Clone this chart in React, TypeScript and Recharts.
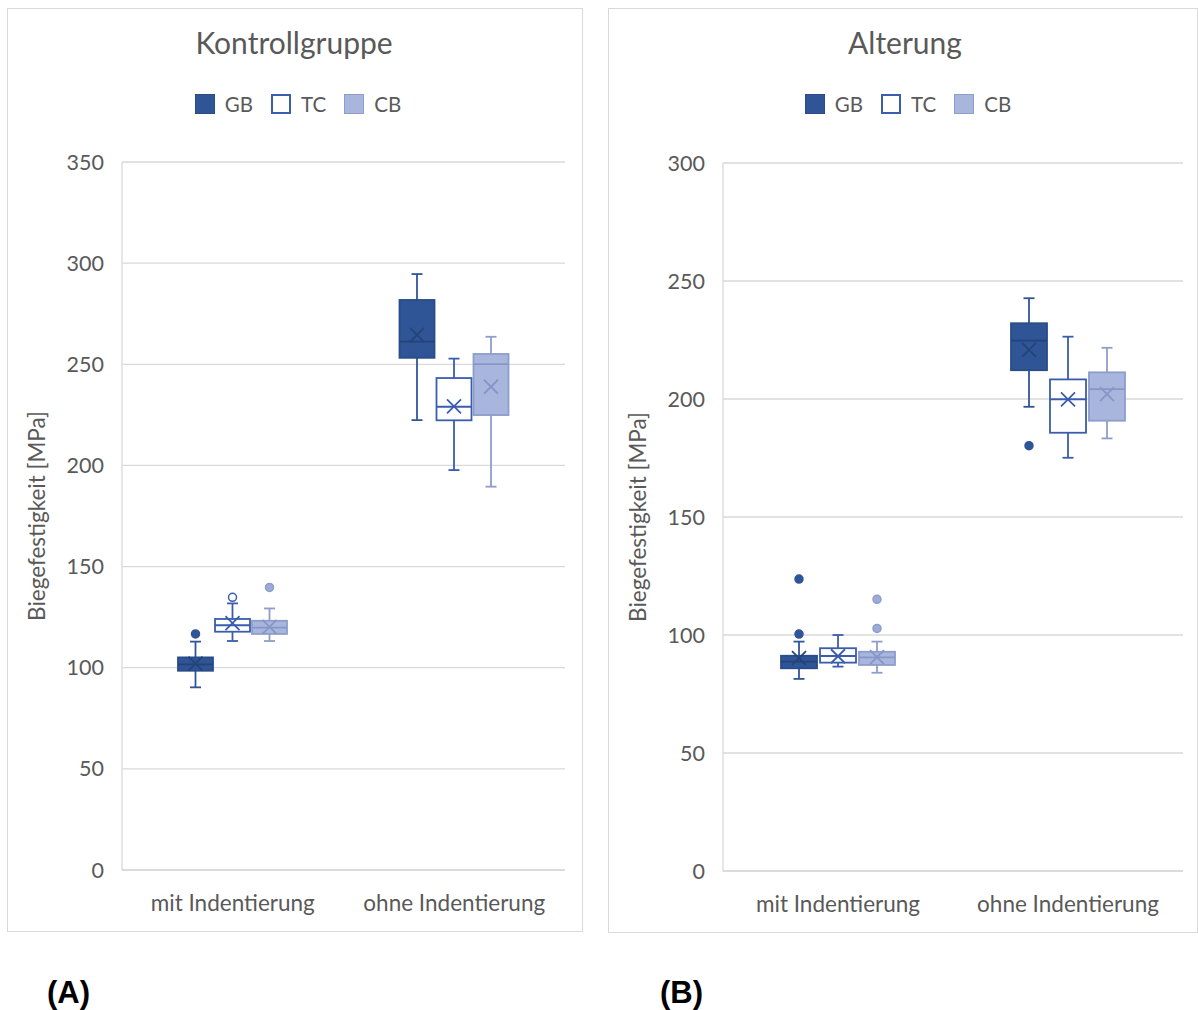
import React from 'react';
import { ComposedChart, Bar, XAxis, YAxis, CartesianGrid } from 'recharts';

// ---------- data ----------
const categories = ['mit Indentierung', 'ohne Indentierung'];
const seriesNames = ['GB', 'TC', 'CB'];

// stats per category: [whisker low, Q1, median, Q3, whisker high, mean]
const kontrollGB = [[90.3, 98.5, 101.7, 105.1, 112.9, 102.0], [222.4, 253.2, 261.2, 281.8, 294.6, 264.5]];
const kontrollGBOutliers = [[116.7], []];
const kontrollTC = [[113.2, 117.8, 121.0, 124.1, 131.8, 122.0], [197.7, 222.3, 229.0, 243.2, 252.8, 229.2]];
const kontrollTCOutliers = [[134.8], []];
const kontrollCB = [[113.2, 116.7, 119.8, 123.2, 129.3, 120.2], [189.5, 224.9, 250.1, 255.1, 263.6, 238.9]];
const kontrollCBOutliers = [[139.7], []];
const kontrollTicks = [0, 50, 100, 150, 200, 250, 300, 350];

const alterungGB = [[81.4, 85.9, 88.7, 91.2, 97.2, 90.2], [196.7, 212.2, 224.7, 232.1, 242.7, 220.8]];
const alterungGBOutliers = [[100.4, 123.7], [180.2]];
const alterungTC = [[86.6, 88.3, 91.1, 94.4, 100.0, 91.0], [175.1, 185.7, 199.9, 208.3, 226.4, 199.8]];
const alterungTCOutliers = [[], []];
const alterungCB = [[84.0, 87.3, 90.5, 92.9, 97.2, 90.6], [183.3, 190.8, 204.2, 211.3, 221.7, 202.1]];
const alterungCBOutliers = [[102.8, 115.1], []];
const alterungTicks = [0, 50, 100, 150, 200, 250, 300];

// ---------- styles ----------
const FONT = 'Lato, "Noto Sans", sans-serif';
const TEXT = '#595959';
const GRID = '#d9d9d9';

const seriesStyle: Record<string, any> = {
  GB: { fill: '#2F5597', stroke: '#2A4D8A', line: '#244478', whisker: '#2F5597', dot: '#2F5597', dotStroke: '#2F5597' },
  TC: { fill: '#FFFFFF', stroke: '#3A5DAE', line: '#3A5DAE', whisker: '#3A5DAE', dot: '#FFFFFF', dotStroke: '#3A5DAE' },
  CB: { fill: '#A8B6DD', stroke: '#8E9DCB', line: '#8696C7', whisker: '#8E9DCB', dot: '#9DACD7', dotStroke: '#8E9DCB' },
};

function buildRows(gb: number[][], gbo: number[][], tc: number[][], tco: number[][], cb: number[][], cbo: number[][]) {
  const mk = (s: number[], o: number[]) => ({
    stats: s,
    out: o,
    range: [Math.min(s[0], ...o), Math.max(s[4], ...o)],
  });
  return categories.map((name, i) => ({
    name,
    GB: mk(gb[i], gbo[i]),
    TC: mk(tc[i], tco[i]),
    CB: mk(cb[i], cbo[i]),
  }));
}

const kontrollRows = buildRows(kontrollGB, kontrollGBOutliers, kontrollTC, kontrollTCOutliers, kontrollCB, kontrollCBOutliers);
const alterungRows = buildRows(alterungGB, alterungGBOutliers, alterungTC, alterungTCOutliers, alterungCB, alterungCBOutliers);

function BoxShape(props: any) {
  const { x, y, width, height, payload, sk } = props;
  if (!payload || x == null) return null;
  const d = payload[sk];
  const st = seriesStyle[sk];
  const [lo, hi] = d.range;
  const top = height >= 0 ? y : y + height;
  const h = Math.abs(height);
  const py = (v: number) => top + ((hi - v) / (hi - lo)) * h;
  const [wl, q1, med, q3, wh, mean] = d.stats;
  const cx = x + width / 2;
  const cap = 5.5;
  const xs = 7;
  const sw = 1.8;
  return (
    <g>
      <line x1={cx} x2={cx} y1={py(wh)} y2={py(q3)} stroke={st.whisker} strokeWidth={sw} />
      <line x1={cx} x2={cx} y1={py(q1)} y2={py(wl)} stroke={st.whisker} strokeWidth={sw} />
      <line x1={cx - cap} x2={cx + cap} y1={py(wh)} y2={py(wh)} stroke={st.whisker} strokeWidth={sw} />
      <line x1={cx - cap} x2={cx + cap} y1={py(wl)} y2={py(wl)} stroke={st.whisker} strokeWidth={sw} />
      <rect x={x} y={py(q3)} width={width} height={py(q1) - py(q3)} fill={st.fill} stroke={st.stroke} strokeWidth={sw} />
      <line x1={x} x2={x + width} y1={py(med)} y2={py(med)} stroke={st.line} strokeWidth={sw} />
      <line x1={cx - xs} x2={cx + xs} y1={py(mean) - xs} y2={py(mean) + xs} stroke={st.line} strokeWidth={sw} />
      <line x1={cx - xs} x2={cx + xs} y1={py(mean) + xs} y2={py(mean) - xs} stroke={st.line} strokeWidth={sw} />
      {d.out.map((o: number, i: number) => (
        <circle key={i} cx={cx} cy={py(o)} r={4} fill={st.dot} stroke={st.dotStroke} strokeWidth={1.5} />
      ))}
    </g>
  );
}

function Legend({ center }: { center: number }) {
  return (
    <div
      style={{
        position: 'absolute', left: center - 200, top: 92, width: 400, height: 24,
        display: 'flex', justifyContent: 'center', alignItems: 'center',
        fontFamily: FONT, fontSize: 20.5, color: TEXT,
      }}
    >
      {seriesNames.map((s, i) => (
        <div key={s} style={{ display: 'flex', alignItems: 'center', marginLeft: i === 0 ? 0 : 18 }}>
          <div
            style={{
              width: 20, height: 20, boxSizing: 'border-box', background: seriesStyle[s].fill,
              border: `${s === 'TC' ? 2 : 1.5}px solid ${seriesStyle[s].stroke}`, marginRight: 10,
            }}
          />
          <span>{s}</span>
        </div>
      ))}
    </div>
  );
}

function Panel(props: any) {
  const { rows, ticks, max, title, svgLeft, svgWidth, plotLeft, plotRight, plotTop, plotBottom, box, barGap, barSize, titleCenter, legendCenter, yLabelX } = props;
  const margin = {
    top: plotTop,
    bottom: 1010 - plotBottom - 30,
    left: plotLeft - svgLeft - 60,
    right: svgLeft + svgWidth - plotRight,
  };
  return (
    <>
      <div style={{ position: 'absolute', left: box[0], top: box[1], width: box[2], height: box[3], border: `1px solid ${GRID}`, boxSizing: 'border-box' }} />
      <div style={{ position: 'absolute', left: titleCenter - 200, top: 26, width: 400, textAlign: 'center', fontFamily: FONT, fontSize: 30, lineHeight: '32px', color: TEXT }}>
        {title}
      </div>
      <Legend center={legendCenter} />
      <div
        style={{
          position: 'absolute', left: yLabelX - 150, top: (plotTop + plotBottom) / 2 - 15, width: 300, height: 30,
          lineHeight: '30px', textAlign: 'center', transform: 'rotate(-90deg)', fontFamily: FONT, fontSize: 22.5, color: TEXT,
        }}
      >
        Biegefestigkeit [MPa]
      </div>
      <div style={{ position: 'absolute', left: svgLeft, top: 0 }}>
        <ComposedChart width={svgWidth} height={1010} data={rows} margin={margin} barGap={barGap} barSize={barSize}>
          <CartesianGrid vertical={false} stroke={GRID} strokeWidth={1.3} />
          <XAxis
            dataKey="name"
            axisLine={{ stroke: GRID, strokeWidth: 1.3 }}
            tickLine={false}
            tickSize={0}
            tickMargin={25}
            tick={{ fill: TEXT, fontSize: 22.5, fontFamily: FONT }}
            height={30}
            interval={0}
          />
          <YAxis
            type="number"
            domain={[0, max]}
            ticks={ticks}
            width={60}
            axisLine={{ stroke: GRID, strokeWidth: 1.3 }}
            tickLine={false}
            tickSize={0}
            tickMargin={18}
            tick={{ fill: TEXT, fontSize: 21.5, fontFamily: FONT }}
            interval={0}
          />
          {seriesNames.map((s) => (
            <Bar
              key={s}
              dataKey={(d: any) => d[s].range}
              isAnimationActive={false}
              shape={(p: any) => <BoxShape {...p} sk={s} />}
            />
          ))}
        </ComposedChart>
      </div>
    </>
  );
}

export default function App() {
  return (
    <div style={{ position: 'absolute', left: 0, top: 0, width: 1198, height: 1010, background: '#fff' }}>
      <Panel
        rows={kontrollRows}
        ticks={kontrollTicks}
        max={350}
        title="Kontrollgruppe"
        svgLeft={0}
        svgWidth={600}
        plotLeft={122}
        plotRight={565}
        plotTop={162}
        plotBottom={870}
        box={[7, 8, 576, 924]}
        barGap={2}
        barSize={35}
        titleCenter={294}
        legendCenter={298}
        yLabelX={37}
      />
      <Panel
        rows={alterungRows}
        ticks={alterungTicks}
        max={300}
        title="Alterung"
        svgLeft={600}
        svgWidth={598}
        plotLeft={723}
        plotRight={1183}
        plotTop={163}
        plotBottom={871}
        box={[608, 8, 590, 925]}
        barGap={3}
        barSize={36}
        titleCenter={905}
        legendCenter={908}
        yLabelX={638}
      />
      <div style={{ position: 'absolute', left: 47, top: 975, lineHeight: '36px', fontFamily: '"Liberation Sans", Arial, sans-serif', fontWeight: 'bold', fontSize: 31, color: '#000' }}>(A)</div>
      <div style={{ position: 'absolute', left: 660, top: 975, lineHeight: '36px', fontFamily: '"Liberation Sans", Arial, sans-serif', fontWeight: 'bold', fontSize: 31, color: '#000' }}>(B)</div>
    </div>
  );
}
